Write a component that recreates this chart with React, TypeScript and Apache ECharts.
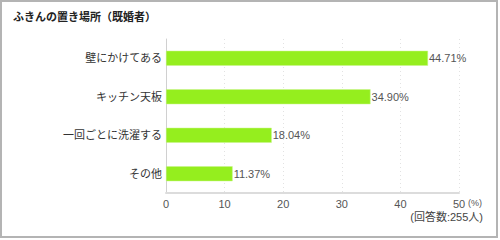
import React, { useEffect, useRef } from "react";
import * as echarts from "echarts";

const title = "ふきんの置き場所（既婚者）";
const categories = ["壁にかけてある", "キッチン天板", "一回ごとに洗濯する", "その他"];
const values = [44.71, 34.9, 18.04, 11.37];
const unitLabel = "(%)";
const noteLabel = "(回答数:255人)";

const FONT = "'Liberation Sans', 'Noto Sans CJK JP', sans-serif";

export default function App() {
  const ref = useRef<HTMLDivElement>(null);

  useEffect(() => {
    if (!ref.current) return;
    const chart = echarts.init(ref.current, null, { renderer: "svg" });
    chart.setOption({
      animation: false,
      backgroundColor: "#ffffff",
      textStyle: { fontFamily: FONT },
      grid: { left: 166, right: 41, top: 39, bottom: 47, containLabel: false },
      xAxis: {
        type: "value",
        min: 0,
        max: 50,
        interval: 10,
        axisLine: { show: true, lineStyle: { color: "#dcdcdc", width: 2 } },
        axisTick: { show: false },
        axisLabel: { color: "#555", fontSize: 11, margin: 5, fontFamily: FONT },
        splitLine: { show: true, lineStyle: { color: "#e2e2e2", type: [1, 3], width: 1 } },
      },
      yAxis: {
        type: "category",
        data: categories,
        inverse: true,
        axisLine: { show: true, lineStyle: { color: "#d0d0d0", width: 1 } },
        axisTick: { show: false },
        axisLabel: { color: "#333", fontSize: 11, margin: 4, fontFamily: FONT },
      },
      series: [
        {
          type: "bar",
          data: values,
          barWidth: 15,
          itemStyle: { color: "#95ee1e", borderColor: "#c8f58a", borderWidth: 0.5 },
          label: {
            show: true,
            position: "right",
            distance: 1,
            color: "#555",
            fontSize: 11,
            fontFamily: FONT,
            formatter: (p: any) => p.value.toFixed(2) + "%",
          },
        },
      ],
      graphic: [
        {
          type: "rect",
          shape: { x: 1, y: 1, width: 496, height: 236 },
          style: { fill: "none", stroke: "#b4b4b4", lineWidth: 2 },
          silent: true,
        },
        {
          type: "text",
          x: 13,
          y: 11,
          style: {
            text: title,
            fill: "#222",
            font: `bold 11px ${FONT}`,
          },
        },
        {
          type: "text",
          x: 468,
          y: 198,
          style: { text: unitLabel, fill: "#555", font: `9px ${FONT}` },
        },
        {
          type: "text",
          x: 483,
          y: 211,
          style: { text: noteLabel, fill: "#444", font: `11px ${FONT}`, align: "right" },
        },
      ],
    });
    return () => chart.dispose();
  }, []);

  return (
    <div
      ref={ref}
      style={{ position: "fixed", left: 0, top: 0, width: 500, height: 240 }}
    />
  );
}
